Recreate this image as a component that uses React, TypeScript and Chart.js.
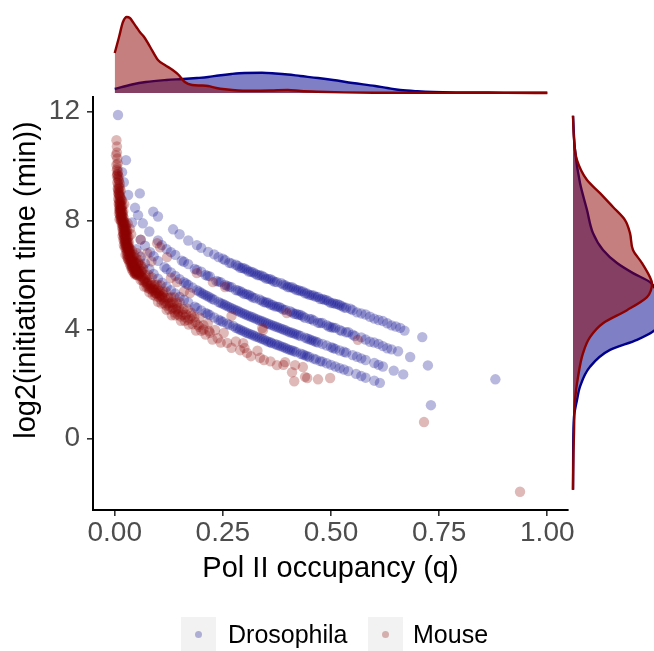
import React, { useEffect, useRef } from "react";
import { Chart, registerables } from "chart.js";

Chart.register(...registerables);

// ---------- Data (q = Pol II occupancy, y = log2 initiation time) ----------
const seriesNames = ["Drosophila", "Mouse"];
const xTickValues = [0, 0.25, 0.5, 0.75, 1];
const yTickValues = [0, 4, 8, 12];
const xAxisTitle = "Pol II occupancy (q)";
const yAxisTitle = "log2(initiation time (min))";

const drosophilaRowA: number[][] = [
  [0.0076, 11.88], [0.026, 10.22], [0.058, 9.0], [0.089, 8.33], [0.1, 8.15], [0.135, 7.68], [0.17, 7.27],
  [0.19, 7.1], [0.216, 6.85], [0.23, 6.76], [0.25, 6.6], [0.255, 6.55], [0.265, 6.45], [0.28, 6.38],
  [0.29, 6.27], [0.3, 6.24], [0.305, 6.2], [0.31, 6.13], [0.32, 6.1], [0.33, 6.0], [0.34, 5.98],
  [0.345, 5.93], [0.35, 5.87], [0.36, 5.85], [0.37, 5.75], [0.385, 5.7], [0.395, 5.62], [0.4, 5.56],
  [0.41, 5.55], [0.42, 5.45], [0.435, 5.4], [0.44, 5.33], [0.45, 5.27], [0.46, 5.25], [0.47, 5.2],
  [0.475, 5.12], [0.49, 5.08], [0.5, 4.97], [0.515, 4.93], [0.52, 4.9], [0.53, 4.81], [0.545, 4.76],
  [0.56, 4.63], [0.58, 4.55], [0.6, 4.4], [0.62, 4.31], [0.64, 4.15], [0.66, 4.06], [0.67, 3.96],
  [0.711, 3.72], [0.88, 2.17],
  [0.15, 7.5], [0.2, 7.0], [0.24, 6.66], [0.27, 6.43], [0.285, 6.33], [0.295, 6.26], [0.315, 6.12],
  [0.325, 6.05], [0.335, 5.99], [0.355, 5.86], [0.365, 5.8], [0.375, 5.74], [0.39, 5.65], [0.405, 5.55],
  [0.415, 5.5], [0.425, 5.44], [0.43, 5.41], [0.445, 5.32], [0.455, 5.26], [0.465, 5.2], [0.48, 5.12],
  [0.485, 5.09], [0.495, 5.03], [0.505, 4.97], [0.51, 4.94], [0.525, 4.86], [0.535, 4.8], [0.55, 4.71],
  [0.57, 4.59], [0.59, 4.47], [0.61, 4.35], [0.63, 4.23], [0.65, 4.11],
];
const drosophilaRowB: number[][] = [
  [0.017, 9.78], [0.021, 9.41], [0.031, 8.94], [0.047, 8.47], [0.054, 8.2], [0.065, 7.9], [0.08, 7.6],
  [0.109, 7.1], [0.12, 6.95], [0.14, 6.74], [0.155, 6.53], [0.17, 6.4], [0.185, 6.22], [0.2, 6.12],
  [0.21, 6.0], [0.22, 5.95], [0.235, 5.78], [0.245, 5.74], [0.255, 5.64], [0.26, 5.6], [0.27, 5.55],
  [0.28, 5.45], [0.29, 5.41], [0.3, 5.3], [0.305, 5.3], [0.31, 5.27], [0.32, 5.17], [0.335, 5.1],
  [0.345, 5.01], [0.355, 4.98], [0.36, 4.92], [0.37, 4.85], [0.38, 4.83], [0.39, 4.73], [0.405, 4.67],
  [0.415, 4.58], [0.42, 4.57], [0.43, 4.53], [0.44, 4.43], [0.455, 4.38], [0.47, 4.25], [0.48, 4.24],
  [0.495, 4.11], [0.5, 4.08], [0.51, 4.06], [0.525, 3.94], [0.54, 3.9], [0.555, 3.76], [0.57, 3.71],
  [0.59, 3.55], [0.61, 3.47], [0.63, 3.31], [0.655, 3.2], [0.683, 2.99], [0.724, 2.68],
  [0.1, 7.27], [0.13, 6.84], [0.16, 6.49], [0.19, 6.19], [0.215, 5.97], [0.24, 5.76], [0.265, 5.57],
  [0.285, 5.43], [0.295, 5.36], [0.315, 5.22], [0.325, 5.15], [0.34, 5.06], [0.35, 4.99], [0.365, 4.9],
  [0.375, 4.84], [0.385, 4.78], [0.395, 4.72], [0.41, 4.63], [0.425, 4.54], [0.435, 4.48], [0.45, 4.39],
  [0.46, 4.33], [0.475, 4.24], [0.49, 4.16], [0.505, 4.07], [0.52, 3.98], [0.535, 3.9], [0.55, 3.81],
  [0.58, 3.63], [0.6, 3.52], [0.62, 3.39], [0.64, 3.27],
];
const drosophilaRowC: number[][] = [
  [0.04, 7.93], [0.06, 7.3], [0.082, 6.84], [0.1, 6.52], [0.115, 6.29], [0.13, 6.1], [0.15, 5.85],
  [0.165, 5.69], [0.18, 5.54], [0.195, 5.4], [0.205, 5.3], [0.215, 5.22], [0.225, 5.13], [0.24, 5.01],
  [0.25, 4.94], [0.26, 4.86], [0.27, 4.78], [0.275, 4.75], [0.285, 4.68], [0.295, 4.6], [0.305, 4.53],
  [0.31, 4.5], [0.32, 4.44], [0.33, 4.37], [0.335, 4.33], [0.345, 4.28], [0.355, 4.21], [0.365, 4.15],
  [0.37, 4.12], [0.38, 4.06], [0.39, 4.0], [0.4, 3.93], [0.41, 3.88], [0.415, 3.85], [0.425, 3.79],
  [0.44, 3.7], [0.45, 3.64], [0.46, 3.58], [0.465, 3.55], [0.48, 3.47], [0.49, 3.41], [0.505, 3.32],
  [0.52, 3.23], [0.535, 3.15], [0.55, 3.06], [0.57, 2.94], [0.6, 2.77], [0.62, 2.64], [0.645, 2.49],
  [0.667, 2.35],
  [0.07, 7.08], [0.09, 6.69], [0.12, 6.22], [0.14, 5.97], [0.16, 5.74], [0.17, 5.64], [0.19, 5.44],
  [0.2, 5.35], [0.21, 5.26], [0.22, 5.18], [0.23, 5.09], [0.245, 4.97], [0.255, 4.9], [0.265, 4.82],
  [0.28, 4.71], [0.29, 4.64], [0.3, 4.57], [0.315, 4.47], [0.325, 4.4], [0.34, 4.31], [0.35, 4.24],
  [0.36, 4.18], [0.375, 4.09], [0.385, 4.03], [0.395, 3.97], [0.405, 3.9], [0.42, 3.82], [0.43, 3.76],
  [0.445, 3.67], [0.455, 3.61], [0.47, 3.52], [0.5, 3.35], [0.51, 3.29], [0.53, 3.18], [0.56, 3.0],
  [0.58, 2.88], [0.61, 2.7],
];
const drosophilaRowD: number[][] = [
  [0.05, 6.95], [0.07, 6.43], [0.09, 6.04], [0.11, 5.72], [0.13, 5.44], [0.15, 5.2], [0.17, 4.99],
  [0.185, 4.84], [0.2, 4.7], [0.215, 4.57], [0.23, 4.44], [0.245, 4.32], [0.26, 4.21], [0.274, 4.13],
  [0.28, 4.06], [0.29, 3.99], [0.3, 3.92], [0.305, 3.88], [0.315, 3.82], [0.325, 3.75], [0.33, 3.72],
  [0.34, 3.66], [0.35, 3.59], [0.355, 3.55], [0.363, 3.5], [0.375, 3.44], [0.38, 3.41], [0.39, 3.35],
  [0.4, 3.28], [0.405, 3.25], [0.415, 3.2], [0.43, 3.11], [0.44, 3.05], [0.445, 3.02], [0.46, 2.93],
  [0.475, 2.84], [0.49, 2.76], [0.51, 2.64], [0.53, 2.53], [0.558, 2.37], [0.58, 2.23], [0.6, 2.12],
  [0.613, 2.04], [0.731, 1.22],
  [0.06, 6.67], [0.08, 6.22], [0.1, 5.87], [0.12, 5.57], [0.14, 5.32], [0.16, 5.09], [0.19, 4.79],
  [0.21, 4.61], [0.22, 4.53], [0.24, 4.36], [0.25, 4.28], [0.265, 4.17], [0.285, 4.03], [0.295, 3.96],
  [0.31, 3.85], [0.32, 3.79], [0.335, 3.69], [0.345, 3.63], [0.36, 3.53], [0.37, 3.47], [0.385, 3.38],
  [0.395, 3.32], [0.41, 3.23], [0.42, 3.17], [0.435, 3.08], [0.45, 2.99], [0.465, 2.9], [0.48, 2.82],
  [0.5, 2.7], [0.52, 2.58], [0.54, 2.47], [0.57, 2.29],
];

const mouseSteep: number[][] = [
  [0.004, 10.95], [0.005, 10.72], [0.003, 10.4], [0.006, 10.28], [0.004, 10.05],
  [0.006, 9.92], [0.008, 9.8], [0.005, 9.65], [0.007, 9.55], [0.009, 9.5], [0.006, 9.4], [0.008, 9.32],
  [0.01, 9.25], [0.007, 9.18], [0.009, 9.1], [0.011, 9.05], [0.008, 9.02], [0.012, 9.35], [0.006, 9.7],
  [0.009, 8.95], [0.011, 8.9], [0.013, 8.85], [0.008, 8.8], [0.01, 8.75], [0.012, 8.7], [0.014, 8.68],
  [0.009, 8.62], [0.011, 8.58], [0.013, 8.55], [0.016, 8.5], [0.01, 8.48], [0.012, 8.44], [0.015, 8.4],
  [0.011, 8.36], [0.013, 8.32], [0.017, 8.3], [0.01, 8.27], [0.014, 8.24], [0.012, 8.2], [0.016, 8.18],
  [0.019, 8.15], [0.013, 8.12], [0.015, 8.08], [0.011, 8.05], [0.018, 8.04], [0.014, 8.02], [0.02, 8.35],
  [0.022, 8.6], [0.017, 8.75],
  [0.005, 10.5], [0.007, 10.1], [0.005, 9.85], [0.007, 9.7], [0.009, 9.62], [0.01, 9.45], [0.012, 9.2],
  [0.008, 9.15], [0.014, 9.1], [0.01, 8.98], [0.012, 8.92], [0.014, 8.8], [0.016, 8.72], [0.011, 8.66],
  [0.013, 8.6], [0.018, 8.55], [0.015, 8.46], [0.012, 8.38], [0.017, 8.36], [0.014, 8.3], [0.019, 8.25],
  [0.016, 8.2], [0.021, 8.1], [0.017, 8.06], [0.02, 8.0], [0.015, 8.15], [0.022, 7.96], [0.013, 8.45],
];
const mouseUpper: number[][] = [
  [0.015, 7.98], [0.018, 7.95], [0.021, 7.92], [0.016, 7.88], [0.019, 7.85], [0.022, 7.82], [0.017, 7.78],
  [0.02, 7.75], [0.024, 7.72], [0.018, 7.68], [0.021, 7.65], [0.025, 7.62], [0.019, 7.58], [0.023, 7.55],
  [0.02, 7.52], [0.026, 7.5], [0.022, 7.47], [0.018, 7.44], [0.024, 7.42], [0.021, 7.38], [0.027, 7.36],
  [0.023, 7.33], [0.02, 7.3], [0.025, 7.27], [0.029, 7.25], [0.022, 7.22], [0.026, 7.19], [0.024, 7.16],
  [0.028, 7.13], [0.021, 7.1], [0.025, 7.08], [0.03, 7.05], [0.027, 7.03], [0.023, 7.01], [0.032, 7.4],
  [0.035, 7.7], [0.03, 7.9], [0.028, 7.55], [0.033, 7.2], [0.038, 7.5], [0.026, 7.85], [0.029, 7.62],
  [0.019, 7.92], [0.023, 7.88], [0.02, 7.8], [0.025, 7.77], [0.022, 7.7], [0.027, 7.66], [0.023, 7.6],
  [0.026, 7.56], [0.021, 7.5], [0.028, 7.46], [0.025, 7.4], [0.03, 7.34], [0.026, 7.3], [0.024, 7.24],
  [0.029, 7.2], [0.031, 7.15], [0.027, 7.1], [0.032, 7.06], [0.029, 7.02], [0.034, 7.0],
];
const mouseMid: number[][] = [
  [0.026, 6.98], [0.029, 6.95], [0.032, 6.92], [0.027, 6.88], [0.03, 6.85], [0.034, 6.82], [0.028, 6.78],
  [0.031, 6.75], [0.036, 6.72], [0.029, 6.68], [0.033, 6.65], [0.038, 6.62], [0.031, 6.58], [0.035, 6.55],
  [0.04, 6.52], [0.033, 6.5], [0.037, 6.47], [0.042, 6.44], [0.035, 6.41], [0.039, 6.38], [0.044, 6.35],
  [0.037, 6.32], [0.041, 6.3], [0.047, 6.27], [0.039, 6.24], [0.043, 6.21], [0.049, 6.18], [0.041, 6.16],
  [0.046, 6.13], [0.052, 6.1], [0.044, 6.08], [0.048, 6.06], [0.055, 6.04], [0.047, 6.02], [0.051, 6.01],
  [0.04, 6.9], [0.045, 6.75], [0.05, 6.6], [0.055, 6.45], [0.06, 6.35], [0.052, 6.8], [0.058, 6.55],
  [0.065, 6.3], [0.034, 6.98], [0.043, 6.68], [0.05, 6.4], [0.062, 6.15], [0.04, 6.3], [0.048, 6.05],
  [0.03, 6.6], [0.025, 6.75], [0.057, 6.22],
  [0.031, 6.97], [0.035, 6.9], [0.033, 6.85], [0.037, 6.78], [0.034, 6.72], [0.039, 6.68], [0.036, 6.6],
  [0.041, 6.57], [0.038, 6.5], [0.043, 6.48], [0.041, 6.4], [0.046, 6.37], [0.043, 6.32], [0.048, 6.28],
  [0.045, 6.22], [0.05, 6.2], [0.048, 6.14], [0.053, 6.12], [0.051, 6.06], [0.056, 6.08], [0.045, 6.5],
  [0.049, 6.45],
];
const mouseBand: number[][] = [
  [0.052, 5.99], [0.054, 6.43], [0.056, 5.98], [0.058, 6.12], [0.06, 5.82], [0.062, 6.12], [0.064, 5.82],
  [0.066, 6.22], [0.068, 5.58], [0.07, 5.78], [0.072, 5.99], [0.074, 5.55], [0.076, 5.75], [0.078, 6.01],
  [0.08, 5.37], [0.082, 5.49], [0.084, 5.7], [0.086, 5.91], [0.088, 5.27], [0.09, 5.44], [0.092, 5.65],
  [0.094, 5.22], [0.096, 5.44], [0.098, 5.65], [0.1, 5.02], [0.102, 5.19], [0.104, 5.41], [0.106, 5.63],
  [0.108, 4.95], [0.11, 5.17], [0.112, 5.39], [0.114, 4.96], [0.116, 5.18], [0.118, 5.4], [0.12, 4.72],
  [0.122, 4.95], [0.124, 5.17], [0.126, 4.74], [0.128, 4.97], [0.13, 5.19], [0.132, 4.52], [0.134, 4.74],
  [0.136, 4.97], [0.138, 5.19], [0.14, 4.52], [0.142, 4.74], [0.144, 4.97], [0.146, 4.55], [0.148, 4.78],
  [0.15, 5.0], [0.153, 4.32], [0.156, 4.54], [0.159, 4.75], [0.162, 4.32], [0.165, 4.54], [0.168, 4.76],
  [0.171, 4.18], [0.174, 4.4], [0.177, 4.62], [0.18, 4.19], [0.184, 4.45], [0.188, 3.96], [0.192, 4.17],
  [0.196, 4.44], [0.2, 3.95], [0.205, 4.16], [0.21, 3.81], [0.215, 4.22], [0.22, 3.88], [0.226, 3.63],
  [0.232, 3.98], [0.238, 3.68], [0.245, 3.52], [0.252, 3.87],
  [0.053, 6.2], [0.057, 6.05], [0.061, 5.95], [0.065, 5.9], [0.069, 5.85], [0.073, 5.7], [0.077, 5.6],
  [0.081, 5.62], [0.085, 5.52], [0.089, 5.5], [0.093, 5.35], [0.097, 5.3], [0.101, 5.35], [0.105, 5.25],
  [0.109, 5.22],
  [0.063, 5.95], [0.067, 5.75], [0.071, 5.9], [0.075, 5.7], [0.079, 5.5], [0.083, 5.65], [0.087, 5.42],
  [0.091, 5.55], [0.095, 5.35], [0.099, 5.5], [0.103, 5.28], [0.107, 5.1], [0.111, 5.3], [0.115, 5.05],
  [0.119, 4.88], [0.123, 5.08], [0.127, 4.85], [0.131, 5.0], [0.135, 4.8], [0.139, 4.62], [0.143, 4.85],
  [0.147, 4.66], [0.152, 4.48], [0.157, 4.65], [0.163, 4.45], [0.17, 4.35], [0.178, 4.5], [0.186, 4.28],
  [0.195, 4.1], [0.205, 4.0], [0.218, 3.95],
];
const mouseTail: number[][] = [
  [0.26, 3.51], [0.27, 3.33], [0.28, 3.56], [0.29, 3.24], [0.3, 3.32], [0.315, 3.02], [0.33, 3.22],
  [0.345, 2.88], [0.36, 2.83], [0.375, 2.69], [0.39, 2.7], [0.41, 2.43], [0.415, 2.1], [0.44, 2.26],
  [0.445, 2.22], [0.47, 2.17], [0.498, 2.22], [0.297, 3.5], [0.306, 3.14], [0.336, 2.96], [0.394, 2.8],
  [0.417, 2.69], [0.435, 2.62], [0.715, 0.6], [0.937, -1.96],
];
const mouseScatter: number[][] = [
  [0.06, 7.3], [0.075, 6.8], [0.085, 6.5], [0.098, 7.17], [0.105, 7.02], [0.121, 6.66], [0.13, 5.9],
  [0.144, 5.74], [0.16, 5.4], [0.174, 5.34], [0.19, 6.07], [0.227, 5.74], [0.255, 5.56], [0.27, 4.5],
  [0.341, 4.05], [0.343, 3.98], [0.398, 4.6], [0.562, 3.62],
];

// Marginal densities: [q, density] (top) and [log2 time, density] (right)
const topDrosophilaDensity: number[][] = [
  [0, 0.4], [0.04, 0.85], [0.072, 1.1], [0.12, 1.3], [0.158, 1.4], [0.19, 1.5], [0.216, 1.6], [0.24, 1.75],
  [0.27, 1.9], [0.3, 2.0], [0.34, 2.02], [0.371, 1.95], [0.4, 1.85], [0.429, 1.7], [0.47, 1.5], [0.505, 1.3],
  [0.55, 1.0], [0.602, 0.7], [0.63, 0.5], [0.66, 0.3], [0.7, 0.17], [0.736, 0.1], [0.8, 0.06], [0.9, 0.04],
  [1.0, 0.02],
];
const topMouseDensity: number[][] = [
  [0, 4.0], [0.01, 5.6], [0.019, 7.1], [0.028, 7.6], [0.035, 7.5], [0.042, 7.1], [0.05, 6.6], [0.058, 6.1],
  [0.068, 5.6], [0.082, 4.6], [0.1, 3.3], [0.116, 2.8], [0.134, 2.3], [0.148, 1.8], [0.162, 1.1],
  [0.179, 0.8], [0.2, 0.75], [0.216, 0.7], [0.235, 0.5], [0.255, 0.37], [0.285, 0.25], [0.313, 0.23],
  [0.36, 0.25], [0.4, 0.3], [0.43, 0.2], [0.468, 0.13], [0.53, 0.06], [0.6, 0.03], [0.7, 0.02],
  [0.8, 0.01], [0.9, 0.01], [1.0, 0],
];
const rightDrosophilaDensity: number[][] = [
  [-1.89, 0], [-0.41, 0.02], [0.79, 0.1], [1.41, 0.4], [1.9, 0.7], [2.63, 1.7], [3.25, 3.7], [3.62, 6.4],
  [3.98, 8.2], [4.53, 9.0], [5.08, 8.8], [5.45, 8.3], [5.74, 7.7], [6.07, 6.0], [6.44, 4.4], [6.92, 3.0],
  [7.54, 2.0], [8.39, 1.4], [9.38, 0.7], [10.59, 0.2], [11.85, 0],
];
const rightMouseDensity: number[][] = [
  [-1.89, 0], [-0.5, 0.05], [0.2, 0.1], [1.41, 0.2], [2.25, 0.5], [3.13, 1.0], [3.72, 1.7], [4.23, 3.0],
  [4.71, 5.4], [5.19, 7.4], [5.45, 7.8], [5.7, 7.9], [5.92, 7.7], [6.44, 6.9], [6.92, 6.0], [7.54, 5.7],
  [8.02, 5.2], [8.5, 4.0], [9.01, 2.7], [9.49, 1.4], [10.22, 0.4], [11.0, 0.1], [11.85, 0],
];

// ---------- Styling ----------
const FONT = '"Liberation Sans", Arial, Helvetica, sans-serif';
const BLUE = "#00008B";
const RED = "#8B0000";
const BLUE_PT = "rgba(0,0,139,0.28)";
const RED_PT = "rgba(139,0,0,0.28)";
const BLUE_FILL = "rgba(0,0,139,0.5)";
const RED_FILL = "rgba(139,0,0,0.5)";
const X_MIN = -0.0502;
const X_MAX = 1.0479;
const Y_MIN = -2.63;
const Y_MAX = 12.54;

const toXY = (pts: number[][]) => pts.map(([x, y]) => ({ x, y }));
const toYX = (pts: number[][]) => pts.map(([y, x]) => ({ x, y }));

const yTitlePlugin = {
  id: "yTitle",
  afterDraw(chart: any) {
    const ctx = chart.ctx;
    ctx.save();
    ctx.translate(27, 280);
    ctx.rotate(-Math.PI / 2);
    ctx.font = `29px ${FONT}`;
    ctx.fillStyle = "#000";
    ctx.textAlign = "center";
    ctx.textBaseline = "middle";
    ctx.fillText(yAxisTitle, 0, 0);
    ctx.restore();
  },
};

export default function App() {
  const mainRef = useRef<HTMLCanvasElement | null>(null);
  const topRef = useRef<HTMLCanvasElement | null>(null);
  const rightRef = useRef<HTMLCanvasElement | null>(null);

  useEffect(() => {
    const charts: Chart[] = [];
    const drosophila = [...drosophilaRowA, ...drosophilaRowB, ...drosophilaRowC, ...drosophilaRowD];
    const mouse = [...mouseSteep, ...mouseUpper, ...mouseMid, ...mouseBand, ...mouseTail, ...mouseScatter];

    if (mainRef.current) {
      charts.push(
        new Chart(mainRef.current, {
          type: "scatter",
          data: {
            datasets: [
              {
                label: seriesNames[0],
                data: toXY(drosophila),
                backgroundColor: BLUE_PT,
                borderWidth: 0,
                pointRadius: 5.2,
                pointBorderWidth: 0,
                order: 1,
              },
              {
                label: seriesNames[1],
                data: toXY(mouse),
                backgroundColor: RED_PT,
                borderWidth: 0,
                pointRadius: 5.2,
                pointBorderWidth: 0,
                order: 0,
              },
            ],
          },
          options: {
            responsive: false,
            maintainAspectRatio: false,
            animation: false,
            events: [],
            layout: { padding: { top: 97, right: 86, left: 0, bottom: 0 } },
            plugins: { legend: { display: false }, tooltip: { enabled: false } },
            scales: {
              x: {
                type: "linear",
                min: X_MIN,
                max: X_MAX,
                afterFit: (s: any) => {
                  s.height = 141;
                },
                afterBuildTicks: (s: any) => {
                  s.ticks = xTickValues.map((v) => ({ value: v }));
                },
                ticks: {
                  callback: (v: any) => Number(v).toFixed(2),
                  font: { family: FONT, size: 28 },
                  color: "#4d4d4d",
                  padding: 0,
                  maxRotation: 0,
                  minRotation: 0,
                  autoSkip: false,
                },
                grid: { drawOnChartArea: false, drawTicks: true, tickLength: 6, color: "#333333", lineWidth: 1.6 },
                border: { display: true, color: "#000", width: 2 },
                title: {
                  display: true,
                  text: xAxisTitle,
                  font: { family: FONT, size: 29 },
                  color: "#000",
                  padding: { top: 0, bottom: 65 },
                },
              },
              y: {
                type: "linear",
                min: Y_MIN,
                max: Y_MAX,
                afterFit: (s: any) => {
                  s.width = 93;
                },
                afterBuildTicks: (s: any) => {
                  s.ticks = yTickValues.map((v) => ({ value: v }));
                },
                ticks: {
                  callback: (v: any) => String(v),
                  font: { family: FONT, size: 28 },
                  color: "#4d4d4d",
                  padding: 7,
                  autoSkip: false,
                },
                grid: { drawOnChartArea: false, drawTicks: true, tickLength: 6, color: "#333333", lineWidth: 1.6 },
                border: { display: true, color: "#000", width: 2 },
              },
            },
          } as any,
          plugins: [yTitlePlugin],
        })
      );
    }

    const densityDataset = (label: string, data: any[], color: string, fill: string) => ({
      label,
      data,
      borderColor: color,
      backgroundColor: fill,
      fill: "origin",
      borderWidth: 2.4,
      pointRadius: 0,
      cubicInterpolationMode: "monotone",
      clip: false,
    });

    if (topRef.current) {
      charts.push(
        new Chart(topRef.current, {
          type: "line",
          data: {
            datasets: [
              densityDataset(seriesNames[1], toXY(topMouseDensity), RED, RED_FILL),
              densityDataset(seriesNames[0], toXY(topDrosophilaDensity), BLUE, BLUE_FILL),
            ] as any,
          },
          options: {
            responsive: false,
            maintainAspectRatio: false,
            animation: false,
            events: [],
            layout: { padding: { top: 0, bottom: 3, left: 0, right: 0 } },
            plugins: { legend: { display: false }, tooltip: { enabled: false } },
            scales: {
              x: { type: "linear", display: false, min: X_MIN, max: X_MAX },
              y: { type: "linear", display: false, min: 0, max: 9.3 },
            },
          } as any,
        })
      );
    }

    if (rightRef.current) {
      charts.push(
        new Chart(rightRef.current, {
          type: "line",
          data: {
            datasets: [
              densityDataset(seriesNames[1], toYX(rightMouseDensity), RED, RED_FILL),
              densityDataset(seriesNames[0], toYX(rightDrosophilaDensity), BLUE, BLUE_FILL),
            ] as any,
          },
          options: {
            indexAxis: "y",
            responsive: false,
            maintainAspectRatio: false,
            animation: false,
            events: [],
            layout: { padding: { top: 0, bottom: 0, left: 2, right: 0 } },
            plugins: { legend: { display: false }, tooltip: { enabled: false } },
            scales: {
              x: { type: "linear", display: false, min: 0, max: 8.1 },
              y: { type: "linear", display: false, min: Y_MIN, max: Y_MAX },
            },
          } as any,
        })
      );
    }

    return () => charts.forEach((c) => c.destroy());
  }, []);

  const legendItems = [
    { name: seriesNames[0], color: BLUE_PT, boxLeft: 181, textLeft: 228 },
    { name: seriesNames[1], color: RED_PT, boxLeft: 368, textLeft: 413 },
  ];

  return (
    <div
      style={{
        position: "absolute",
        left: 0,
        top: 0,
        width: 654,
        height: 651,
        background: "#ffffff",
        fontFamily: FONT,
        overflow: "hidden",
      }}
    >
      <canvas ref={mainRef} width={654} height={651} style={{ position: "absolute", left: 0, top: 0 }} />
      <canvas ref={topRef} width={475} height={96} style={{ position: "absolute", left: 93, top: 0 }} />
      <canvas ref={rightRef} width={83} height={413} style={{ position: "absolute", left: 571, top: 97 }} />
      {legendItems.map((it) => (
        <React.Fragment key={it.name}>
          <div
            style={{
              position: "absolute",
              left: it.boxLeft,
              top: 617,
              width: 35,
              height: 34,
              background: "#f2f2f2",
            }}
          >
            <div
              style={{
                position: "absolute",
                left: 14,
                top: 13.5,
                width: 7,
                height: 7,
                borderRadius: "50%",
                background: it.color,
              }}
            />
          </div>
          <div
            style={{
              position: "absolute",
              left: it.textLeft,
              top: 617,
              height: 34,
              lineHeight: "34px",
              fontSize: 25,
              color: "#000",
              whiteSpace: "nowrap",
            }}
          >
            {it.name}
          </div>
        </React.Fragment>
      ))}
    </div>
  );
}
